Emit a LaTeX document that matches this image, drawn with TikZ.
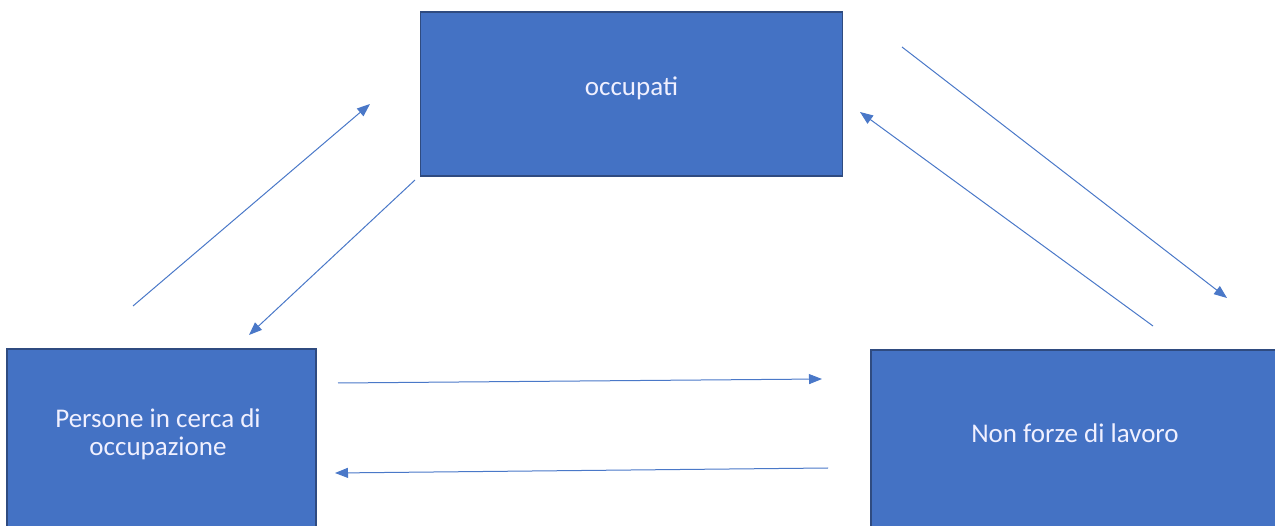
\documentclass[tikz,border=0pt]{standalone}
\usepackage{fontspec}
\setmainfont{Carlito}
\usetikzlibrary{arrows.meta,calc}
\definecolor{boxfill}{HTML}{4472C4}
\definecolor{boxedge}{HTML}{2F4B80}
\definecolor{flow}{HTML}{4A78C8}
\begin{document}
\begin{tikzpicture}[x=1pt,y=-1pt,
  statebox/.style={draw=boxedge,line width=1.6pt,fill=boxfill,inner sep=0pt},
  statetext/.style={text=white!94!blue,font=\fontsize{27}{28}\selectfont,align=center,inner sep=0pt},
  flowarrow/.style={draw=flow,line width=1pt,-{Triangle[length=13pt,width=10pt]}}]
  \clip (0,0) rectangle (1275,526);
  % the three labour-market states
  \node[statebox,minimum width=422pt,minimum height=164pt] (occ) at (631.5,94) {};
  \node[statebox,minimum width=309pt,minimum height=181pt] (cerca) at (161.5,439.5) {};
  \node[statebox,minimum width=406pt,minimum height=180pt] (nfl) at (1074,440) {};
  \node[statetext] (occT) at (631.5,88.5) {occupati};
  \node[statetext] (cercaT) at (158,434.5) {Persone in cerca di\\occupazione};
  \node[statetext] (nflT) at (1075,433) {Non forze di lavoro};
  % end points of the flows
  \coordinate (a1) at (133,306);  \coordinate (b1) at (370,104);
  \coordinate (a2) at (415,180);  \coordinate (b2) at (249,335);
  \coordinate (a3) at (902,47);   \coordinate (b3) at (1227,298);
  \coordinate (a4) at (1153,326); \coordinate (b4) at (860,112);
  \coordinate (a5) at (338,383);  \coordinate (b5) at (822,379);
  \coordinate (a6) at (828,468);  \coordinate (b6) at (335,473);
  % flows between the states
  \draw[flowarrow] (a1) -- (b1);
  \draw[flowarrow] (a2) -- (b2);
  \draw[flowarrow] (a3) -- (b3);
  \draw[flowarrow] (a4) -- (b4);
  \draw[flowarrow] (a5) -- (b5);
  \draw[flowarrow] (a6) -- (b6);
\end{tikzpicture}
\end{document}
